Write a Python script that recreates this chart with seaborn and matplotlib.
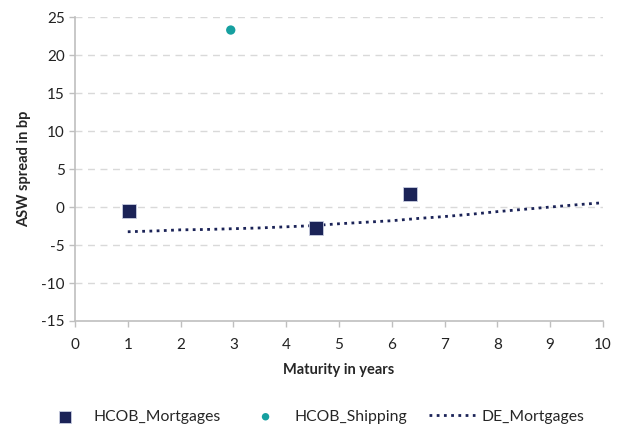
import matplotlib
matplotlib.use("Agg")
import matplotlib.pyplot as plt
import seaborn as sns
import pandas as pd

# Data
mort_x = [1.03, 4.56, 6.35]
mort_y = [-0.5, -2.75, 1.7]
ship_x = [2.95]
ship_y = [23.3]
de_x = [1.0, 1.5, 2.0, 2.5, 3.0, 3.5, 4.0, 4.5, 5.0, 5.5, 6.0, 6.5, 7.0, 7.5, 8.0, 8.5, 9.0, 9.5, 10.0]
de_y = [-3.25, -3.15, -3.0, -2.95, -2.85, -2.75, -2.6, -2.45, -2.2, -2.0, -1.8, -1.5, -1.25, -0.95, -0.6, -0.3, 0.0, 0.3, 0.57]
xticks = list(range(0, 11))
yticks = list(range(-15, 26, 5))

navy = "#1b2357"
teal = "#16a0a0"

sns.set_theme(style="white")
plt.rcParams['font.family'] = ['Lato', 'DejaVu Sans']
plt.rcParams['axes.unicode_minus'] = False

fig = plt.figure(figsize=(6.27, 4.28), dpi=100)
ax = fig.add_axes([0.1196, 0.25, 0.8421, 0.71])

for y in yticks[1:]:
    ax.axhline(y, color="#d9d9d9", lw=1, ls=(0, (5, 4)), zorder=0)

sns.lineplot(x=de_x, y=de_y, ax=ax, color=navy, lw=2, ls=(0, (1, 1.6)),
             label="DE_Mortgages", zorder=2)
sns.scatterplot(x=mort_x, y=mort_y, ax=ax, marker="s", s=110, color=navy,
                edgecolor="#c8cde0", linewidth=0.6, label="HCOB_Mortgages", zorder=3)
sns.scatterplot(x=ship_x, y=ship_y, ax=ax, marker="o", s=45, color=teal,
                edgecolor="none", label="HCOB_Shipping", zorder=3)

ax.set_xlim(0, 10)
ax.set_ylim(-15, 25)
ax.set_xticks(xticks)
ax.set_yticks(yticks)
ax.tick_params(axis="both", labelsize=11, colors="#222222", length=4, width=1,
               direction="out", color="#bfbfbf", bottom=True, left=True)
ax.tick_params(axis="x", pad=8)
for s in ["top", "right"]:
    ax.spines[s].set_visible(False)
for s in ["left", "bottom"]:
    ax.spines[s].set_color("#bfbfbf")
    ax.spines[s].set_linewidth(1.2)

ax.set_xlabel("Maturity in years", fontsize=10.5, fontweight="bold", labelpad=8)
ax.set_ylabel("ASW spread in bp", fontsize=10.5, fontweight="bold", labelpad=7)

h, l = ax.get_legend_handles_labels()
order = [l.index("HCOB_Mortgages"), l.index("HCOB_Shipping"), l.index("DE_Mortgages")]
ax.legend([h[i] for i in order], [l[i] for i in order], loc="center",
          bbox_to_anchor=(0.499, 0.026), bbox_transform=fig.transFigure,
          ncol=3, frameon=False, fontsize=11.3,
          columnspacing=1.4, handlelength=2.9, handletextpad=0.4, markerscale=0.8)

fig.savefig("out.png", dpi=100)
